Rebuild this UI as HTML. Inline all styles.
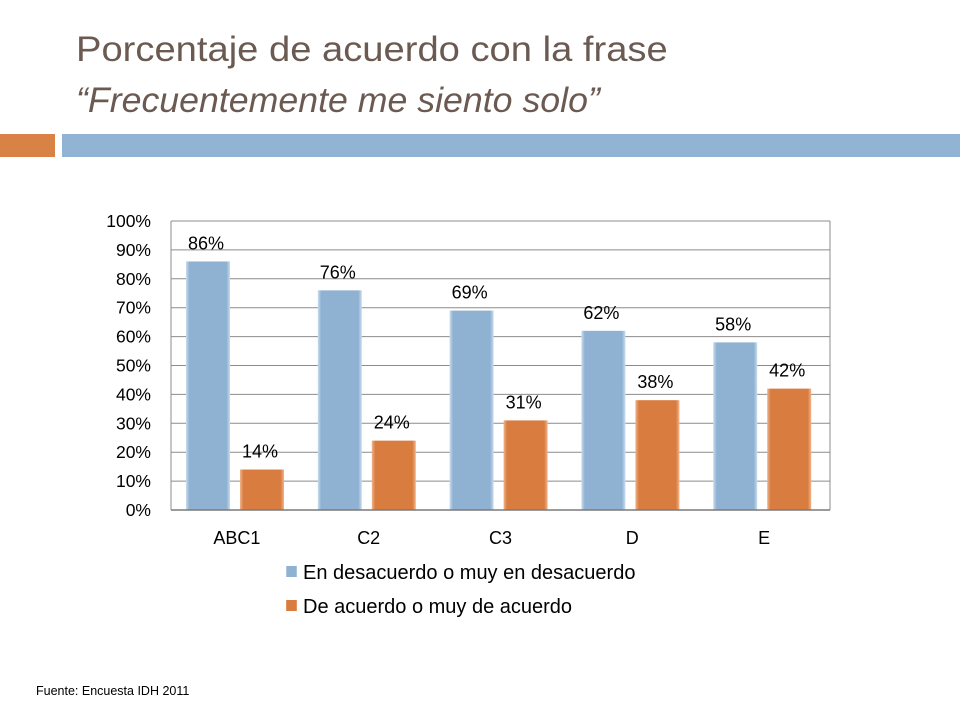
<!DOCTYPE html>
<html><head><meta charset="utf-8"><style>
body{margin:0;width:960px;height:720px;background:#fff;overflow:hidden;font-family:"Liberation Sans",sans-serif;position:relative}
.t{position:absolute;left:76px;color:#6b5a52;font-size:35px;white-space:nowrap;transform-origin:left top}
</style></head><body>
<div class="t" style="top:30px;transform:scaleX(1.09)">Porcentaje de acuerdo con la frase</div>
<div class="t" style="top:81px;font-style:italic;transform:scaleX(1.02)">“Frecuentemente me siento solo”</div>
<div style="position:absolute;left:0;top:134px;width:55px;height:23px;background:#d88246"></div>
<div style="position:absolute;left:62px;top:134px;width:898px;height:23px;background:#92b4d4"></div>
<svg id="chart" width="960" height="720" style="position:absolute;left:0;top:0" font-family="Liberation Sans, sans-serif"></svg>
<div style="position:absolute;left:36px;top:684px;font-size:12.5px;color:#000">Fuente: Encuesta IDH 2011</div>
<script>
const categories=["ABC1","C2","C3","D","E"];
const desacuerdo=[86,76,69,62,58];
const acuerdo=[14,24,31,38,42];
const ticks=[0,10,20,30,40,50,60,70,80,90,100];
const NS="http://www.w3.org/2000/svg";
const svg=document.getElementById("chart");
const L=171,R=830,T=221,B=510;
const y=v=>B-(v/100)*(B-T);
const cw=(R-L)/categories.length;
const x=i=>L+i*cw;
function mk(tag,attrs,txt){const e=document.createElementNS(NS,tag);for(const k in attrs)e.setAttribute(k,attrs[k]);if(txt!=null)e.textContent=txt;svg.appendChild(e);return e;}
const defs=mk("defs",{});
defs.innerHTML='<linearGradient id="gb" x1="0" x2="1"><stop offset="0" stop-color="#c9dcef"/><stop offset="0.08" stop-color="#8fb1d2"/><stop offset="0.92" stop-color="#8fb1d2"/><stop offset="1" stop-color="#c9dcef"/></linearGradient><linearGradient id="go" x1="0" x2="1"><stop offset="0" stop-color="#f0b48a"/><stop offset="0.08" stop-color="#d87c40"/><stop offset="0.92" stop-color="#d87c40"/><stop offset="1" stop-color="#f0b48a"/></linearGradient>';
ticks.forEach(t=>{
const g=mk("line",{x1:L,x2:R,y1:y(t),y2:y(t),stroke:"#8c8c8c","stroke-width":1});


const lb=mk("text",{x:L-20,y:y(t)+6,"text-anchor":"end","font-size":17.5,fill:"#000"},t+"%");


});
const ax=mk("line",{x1:L,x2:L,y1:T,y2:B,stroke:"#8c8c8c"});


mk("line",{x1:R,x2:R,y1:T,y2:B,stroke:"#8c8c8c"});
categories.forEach((c,i)=>{
const bx=x(i)+15,bw=44;
const b1=mk("rect",{x:bx,y:y(desacuerdo[i]),width:bw,height:B-y(desacuerdo[i]),fill:"url(#gb)"});


const l1=mk("text",{x:bx+bw/2-2,y:y(desacuerdo[i])-12,"text-anchor":"middle","font-size":18},desacuerdo[i]+"%");


const ox=bx+bw+10;
const b2=mk("rect",{x:ox,y:y(acuerdo[i]),width:bw,height:B-y(acuerdo[i]),fill:"url(#go)"});


const l2=mk("text",{x:ox+bw/2-2,y:y(acuerdo[i])-12,"text-anchor":"middle","font-size":18},acuerdo[i]+"%");


const cl=mk("text",{x:x(i)+cw/2,y:544,"text-anchor":"middle","font-size":18},c);


});
const base=mk("line",{x1:L,x2:R,y1:B,y2:B,stroke:"#7a7a7a","stroke-width":1.5});


[["En desacuerdo o muy en desacuerdo","url(#gb)",577],["De acuerdo o muy de acuerdo","url(#go)",611]].forEach(([t,f,yy])=>{
const s=mk("rect",{x:286,y:yy-11,width:11,height:11,fill:f});


const tx=mk("text",{x:303,y:yy+2,"font-size":20},t);


});
</script>
</body></html>
